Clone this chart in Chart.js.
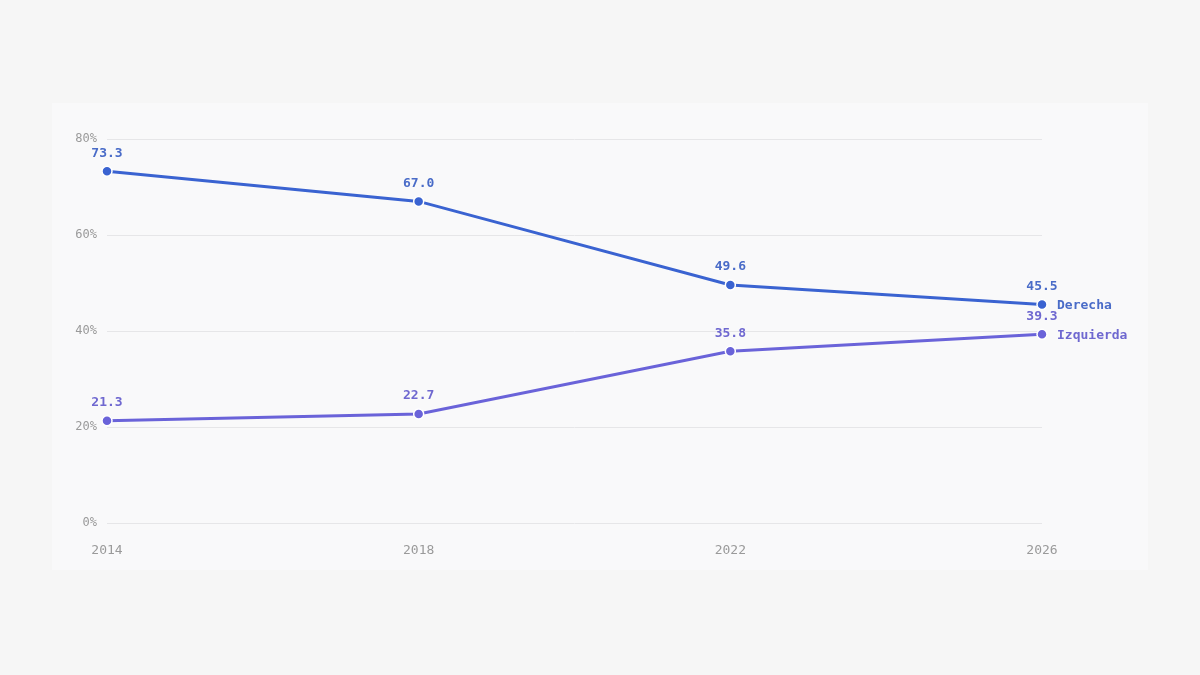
<!DOCTYPE html>
<html>
<head>
<meta charset="utf-8">
<script src="https://cdn.jsdelivr.net/npm/chart.js@4"></script>
<style>
  html, body { margin: 0; padding: 0; background: #f6f6f6; }
  body { width: 1200px; height: 675px; position: relative; overflow: hidden; }
  .panel { position: absolute; left: 52px; top: 103px; width: 1096px; height: 467px; background: #f9f9fa; }
  canvas { display: block; }
</style>
</head>
<body>
<div class="panel"><canvas id="chart" width="1096" height="467"></canvas></div>
<script>
'use strict';

// Data
var years = ['2014', '2018', '2022', '2026'];
var derecha = [73.3, 67.0, 49.6, 45.5];
var izquierda = [21.3, 22.7, 35.8, 39.3];
var yTicks = [0, 20, 40, 60, 80];

var FONT = '"DejaVu Sans Mono", "Liberation Mono", monospace';
var BLUE = '#3a63d1';
var PURPLE = '#6a63d9';
var labelColors = ['#4a6cc8', '#6f68d0'];

// Value labels above points + series name at the end
var labelPlugin = {
  id: 'labels',
  afterDatasetsDraw: function(chart) {
    var ctx = chart.ctx;
    ctx.save();
    ctx.font = 'bold 13px ' + FONT;
    chart.data.datasets.forEach(function(ds, i) {
      var meta = chart.getDatasetMeta(i);
      ctx.fillStyle = labelColors[i];
      meta.data.forEach(function(pt, j) {
        ctx.textAlign = 'center';
        ctx.textBaseline = 'middle';
        ctx.fillText(ds.data[j].toFixed(1), pt.x, pt.y - 18);
      });
      var last = meta.data[meta.data.length - 1];
      ctx.textAlign = 'left';
      ctx.fillText(ds.label, last.x + 15, last.y + 1);
    });
    ctx.restore();
  }
};

var ctx = document.getElementById('chart').getContext('2d');

var chart = new Chart(ctx, {
  type: 'line',
  data: {
    labels: years,
    datasets: [
      {
        label: 'Derecha',
        data: derecha,
        borderColor: BLUE,
        backgroundColor: BLUE,
        borderWidth: 3,
        pointRadius: 5,
        pointBorderColor: '#ffffff',
        pointBorderWidth: 1.5,
        tension: 0
      },
      {
        label: 'Izquierda',
        data: izquierda,
        borderColor: PURPLE,
        backgroundColor: PURPLE,
        borderWidth: 3,
        pointRadius: 5,
        pointBorderColor: '#ffffff',
        pointBorderWidth: 1.5,
        tension: 0
      }
    ]
  },
  options: {
    responsive: false,
    animation: false,
    layout: { padding: { top: 36, right: 106, left: 0, bottom: 0 } },
    plugins: { legend: { display: false }, tooltip: { enabled: false } },
    scales: {
      x: {
        offset: false,
        grid: { display: false },
        border: { display: false },
        ticks: { color: '#9a9a9a', font: { family: FONT, size: 13 }, padding: 12, maxRotation: 0 },
        afterFit: function(scale) { scale.height = 47; }
      },
      y: {
        min: 0,
        max: 80,
        afterBuildTicks: function(scale) {
          scale.ticks = yTicks.map(function(v) { return { value: v }; });
        },
        grid: { color: '#e6e6e8', lineWidth: 1, drawTicks: false },
        border: { display: false },
        ticks: {
          color: '#9a9a9a',
          font: { family: FONT, size: 12 },
          padding: 10,
          callback: function(v) { return v + '%'; }
        },
        afterFit: function(scale) { scale.width = 55; }
      }
    }
  },
  plugins: [labelPlugin]
});
</script>
</body>
</html>
